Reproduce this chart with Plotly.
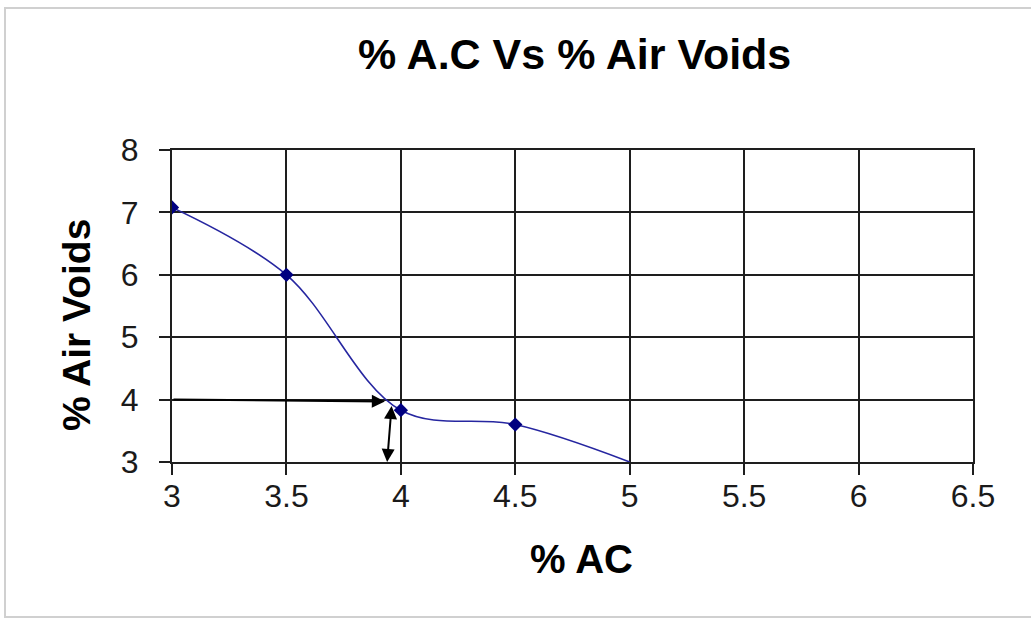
import plotly.graph_objects as go

# % asphalt content vs % air voids (Marshall mix design)
ac_percent = [3.0, 3.5, 4.0, 4.5, 5.0]
air_voids = [7.08, 6.0, 3.83, 3.6, 3.0]

x_ticks = [3, 3.5, 4, 4.5, 5, 5.5, 6, 6.5]
y_ticks = [3, 4, 5, 6, 7, 8]

# Design read-off: 4 % air voids -> optimum asphalt content
target_voids = 4.0
read_ac = 3.94

W, H = 1031, 620
L, R, T, B = 172, 58, 150, 158
pw, ph = W - L - R, H - T - B

def px(xp):
    return (xp - L) / pw

def py(yp):
    return (H - B - yp) / ph

NAVY = "#000080"
GRID = "#1e1e1e"
FONT = "Liberation Sans, Arial, sans-serif"

fig = go.Figure()

# smoothed curve through all points
fig.add_trace(go.Scatter(
    x=ac_percent, y=air_voids, mode="lines",
    line=dict(color="#2626a0", width=1.6, shape="spline", smoothing=1.0),
    hoverinfo="skip", showlegend=False,
))
# measured points (last point sits on the axis floor without a marker)
fig.add_trace(go.Scatter(
    x=ac_percent[:-1], y=air_voids[:-1], mode="markers",
    marker=dict(symbol="diamond", size=11, color=NAVY),
    showlegend=False,
))

axis_common = dict(
    showgrid=True, gridcolor=GRID, gridwidth=2,
    showline=True, linecolor=GRID, linewidth=2, mirror=True,
    ticks="outside", ticklen=11, tickwidth=2, tickcolor=GRID,
    zeroline=False,
    tickfont=dict(family=FONT, size=32, color="#1a1a1a"),
)

fig.update_xaxes(range=[3, 6.5], tickvals=x_ticks, ticktext=[f"{v:g}" for v in x_ticks],
                 ticklabelstandoff=-6, **axis_common)
fig.update_yaxes(range=[3, 8], tickvals=y_ticks, ticktext=[str(v) for v in y_ticks],
                 ticklabelstandoff=14, **axis_common)

label = dict(xref="paper", yref="paper", showarrow=False,
             xanchor="center", yanchor="middle")
annotations = [
    dict(text="<b>% A.C Vs % Air Voids</b>", x=px(574), y=py(54),
         font=dict(family=FONT, size=43, color="black"), **label),
    dict(text="<b>% AC</b>", x=px(581), y=py(559),
         font=dict(family=FONT, size=40, color="black"), **label),
    dict(text="<b>% Air Voids</b>", x=px(76), y=py(325), textangle=-90,
         font=dict(family=FONT, size=39, color="black"), **label),
    # horizontal read-across arrow at 4 % voids
    dict(x=read_ac - 0.01, y=target_voids - 0.03, ax=3.0, ay=target_voids,
         xref="x", yref="y", axref="x", ayref="y", text="",
         showarrow=True, arrowhead=2, arrowsize=1.3, arrowwidth=2, arrowcolor="black"),
    # vertical drop arrow to the % AC axis
    dict(x=read_ac, y=3.0, ax=read_ac + 0.02, ay=target_voids - 0.08,
         xref="x", yref="y", axref="x", ayref="y", text="",
         showarrow=True, arrowhead=2, startarrowhead=2, arrowside="end+start",
         arrowsize=1.3, startarrowsize=1.3, arrowwidth=2, arrowcolor="black"),
]

# light outer frame of the chart area
shapes = [dict(type="rect", xref="paper", yref="paper",
               x0=px(5), x1=px(1040), y0=py(617), y1=py(8),
               line=dict(color="#d0d0d0", width=2), layer="below")]

fig.update_layout(
    width=W, height=H,
    margin=dict(l=L, r=R, t=T, b=B),
    paper_bgcolor="white", plot_bgcolor="white",
    annotations=annotations, shapes=shapes,
    showlegend=False,
)

fig.write_html("out.html", config={"displayModeBar": False})
